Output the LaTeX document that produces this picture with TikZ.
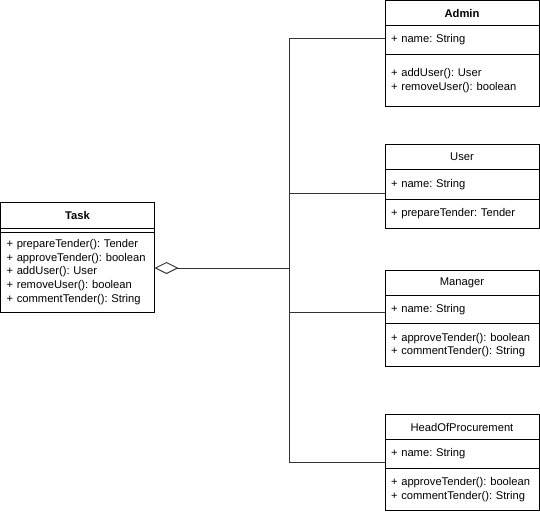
\documentclass[tikz,border=0pt]{standalone}
\usepackage{fontspec}
\setmainfont{Liberation Sans}
\usetikzlibrary{arrows.meta,positioning}

\begin{document}
\frenchspacing
\begin{tikzpicture}[
        x=1pt, y=1pt,
        every node/.style={font=\fontsize{11.2}{13.8}\selectfont},
        box/.style={draw, line width=1pt, outer sep=0pt, inner xsep=6pt, inner ysep=0pt, text width=142pt},
        head/.style={box, align=center, minimum height=25pt},
        bold/.style={font=\fontsize{11.2}{13.8}\selectfont\bfseries},
        attr/.style={box, align=left},
        meth/.style={box, align=left},
        conn/.style={line width=1pt, draw=black!80}
        ]

        \useasboundingbox (0,0) rectangle (540,-514);

        % Task
        \node[head, bold, minimum height=26pt, anchor=north west] (TaskHead) at (0.5,-202) {Task};
        \node[attr, minimum height=4pt] (TaskAttr) [below=0pt of TaskHead] {};
        \node[meth, minimum height=80pt] (TaskMeth) [below=0pt of TaskAttr]
        {+ prepareTender(): Tender\\+ approveTender(): boolean\\+ addUser(): User\\+ removeUser(): boolean\\+ commentTender(): String};

        % Admin
        \node[head, bold, anchor=north west] (AdminHead) at (385,-0.5) {Admin};
        \node[attr, minimum height=29pt] (AdminAttr) [below=0pt of AdminHead] {+ name: String};
        \node[meth, minimum height=52pt] (AdminMeth) [below=0pt of AdminAttr]
        {+ addUser(): User\\+ removeUser(): boolean};

        % User
        \node[head] (UserHead) [below=38pt of AdminMeth] {User};
        \node[attr, minimum height=30pt] (UserAttr) [below=0pt of UserHead] {+ name: String};
        \node[meth, minimum height=29pt] (UserMeth) [below=0pt of UserAttr] {+ prepareTender: Tender};

        % Manager
        \node[head] (ManagerHead) [below=42pt of UserMeth] {Manager};
        \node[attr, minimum height=28pt] (ManagerAttr) [below=0pt of ManagerHead] {+ name: String};
        \node[meth, minimum height=43pt] (ManagerMeth) [below=0pt of ManagerAttr]
        {+ approveTender(): boolean\\+ commentTender(): String};

        % HeadOfProcurement
        \node[head] (HopHead) [below=48pt of ManagerMeth] {HeadOfProcurement};
        \node[attr, minimum height=29pt] (HopAttr) [below=0pt of HopHead] {+ name: String};
        \node[meth, minimum height=42pt] (HopMeth) [below=0pt of HopAttr]
        {+ approveTender(): boolean\\+ commentTender(): String};

        % Edges
        \coordinate (Junction) at (289,-268);
        \draw[conn, {Diamond[open, length=24pt, width=12pt]}-] ([yshift=4pt]TaskMeth.east) -- (Junction);
        \draw[conn] (Junction) |- ([yshift=2pt]AdminAttr.west);
        \draw[conn] (Junction) |- ([yshift=-8.5pt]UserAttr.west);
        \draw[conn] (Junction) |- ([yshift=-2.5pt]ManagerAttr.west);
        \draw[conn] (Junction) |- ([yshift=-8pt]HopAttr.west);

\end{tikzpicture}
\end{document}
